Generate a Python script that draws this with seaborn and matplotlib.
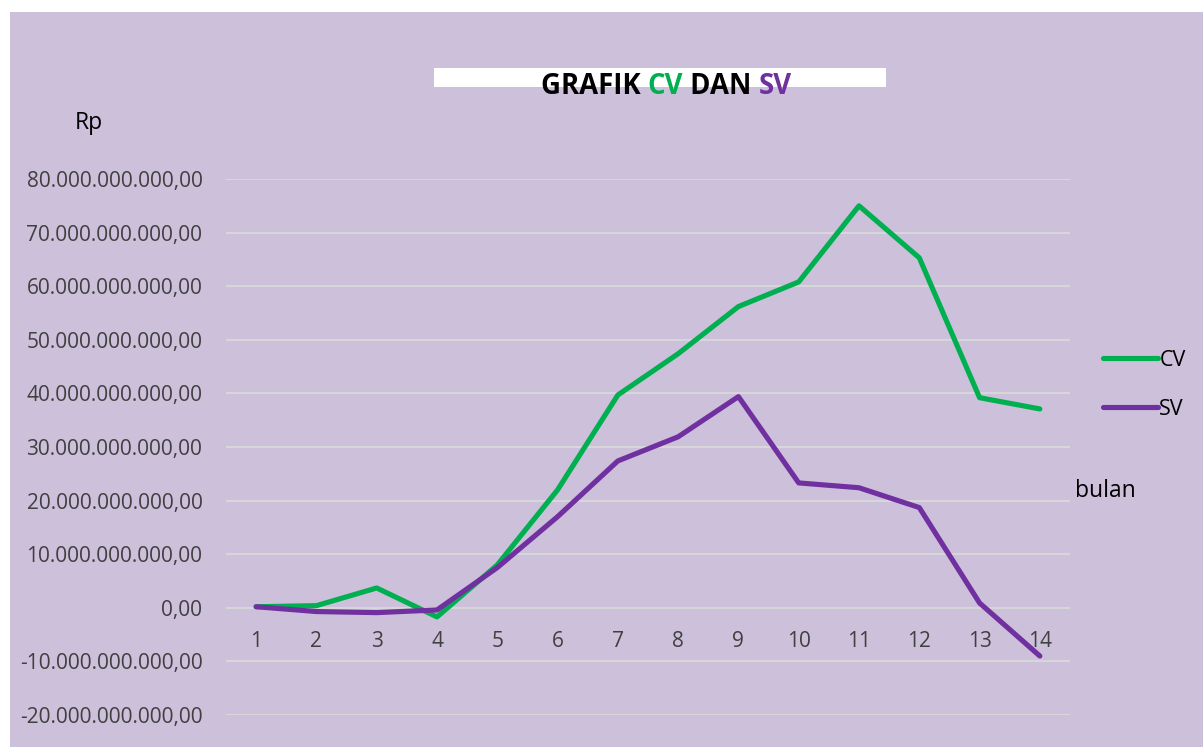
import pandas as pd
import matplotlib.pyplot as plt
import seaborn as sns
from matplotlib.patches import Rectangle

sns.set_theme(style='white')
plt.rcParams['font.family'] = ['Open Sans', 'DejaVu Sans']

bulan = list(range(1, 15))
cv = [0.2, 0.4, 3.7, -1.7, 8.0, 22.0, 39.7, 47.4, 56.2, 60.8, 75.0, 65.3, 39.2, 37.1]
sv = [0.2, -0.7, -0.9, -0.4, 7.5, 17.0, 27.4, 31.9, 39.4, 23.3, 22.4, 18.7, 0.9, -9.0]
yticks = list(range(-20, 90, 10))

df = pd.DataFrame({
    'bulan': bulan * 2,
    'nilai': [v * 1e9 for v in cv + sv],
    'seri': ['CV'] * len(cv) + ['SV'] * len(sv),
})

bg = '#CCC0DA'
green = '#00B050'
purple = '#7030A0'

fig = plt.figure(figsize=(12.03, 7.47), dpi=100, facecolor=bg)
# white strips on top and left, like the screenshot
fig.patches.append(Rectangle((0, (747 - 12) / 747), 1, 12 / 747, transform=fig.transFigure,
                             facecolor='white', edgecolor='none', zorder=-5))
fig.patches.append(Rectangle((0, 0), 10 / 1203, 1, transform=fig.transFigure,
                             facecolor='white', edgecolor='none', zorder=-5))
# white box behind the title
fig.patches.append(Rectangle((434 / 1203, 660 / 747), 452 / 1203, 19 / 747, transform=fig.transFigure,
                             facecolor='white', edgecolor='none', zorder=-4))

ax = fig.add_axes([226 / 1203, 32 / 747, 844 / 1203, 536 / 747])
ax.set_facecolor(bg)

sns.lineplot(data=df, x='bulan', y='nilai', hue='seri', palette={'CV': green, 'SV': purple},
             lw=3.7, ax=ax, legend=False, solid_capstyle='round', solid_joinstyle='round', zorder=3)

fmt = lambda v: f'{v:,.2f}'.replace(',', 'X').replace('.', ',').replace('X', '.')
ax.set_ylim(-20e9, 80e9)
ax.set_yticks([t * 1e9 for t in yticks])
ax.set_yticklabels([fmt(t * 1e9) for t in yticks])
ax.set_xlim(0.5, 14.5)
ax.set_xticks(bulan)
ax.set_xticklabels([str(b) for b in bulan])
ax.grid(axis='y', color='#D9D9D9', lw=1.3)
ax.grid(axis='x', visible=False)
for s in ax.spines.values():
    s.set_visible(False)
ax.spines['bottom'].set_position(('data', 0))
ax.tick_params(axis='y', length=0, pad=17, labelsize=15, labelcolor='#404040')
ax.tick_params(axis='x', length=0, pad=17, labelsize=15, labelcolor='#404040')
ax.set_xlabel('')
ax.set_ylabel('')

# legend
h1, = ax.plot([], [], color=green, lw=3.7, solid_capstyle='round', label='CV')
h2, = ax.plot([], [], color=purple, lw=3.7, solid_capstyle='round', label='SV')
fig.legend(handles=[h1, h2], loc='center left', bbox_to_anchor=(1084 / 1203, (747 - 385) / 747),
           frameon=False, fontsize=15.5, handlelength=2.55, handletextpad=0.05, labelspacing=1.3,
           labelcolor='#000000')

fig.text(75 / 1203, (747 - 123) / 747, 'Rp', fontsize=16.5, color='black', va='center', ha='left')
fig.text(1075 / 1203, (747 - 491) / 747, 'bulan', fontsize=16.5, color='black', va='center', ha='left')

# multi-coloured title, pieces chained one after the other
t = fig.text(541 / 1203, (747 - 101) / 747, 'GRAFIK ', fontsize=19.8, fontweight='bold',
             color='black', va='bottom', ha='left', zorder=5)
for part, col in [('CV', green), (' DAN ', 'black'), ('SV', purple)]:
    t = ax.annotate(part, xy=(1, 0), xycoords=t, xytext=(0, 0), textcoords='offset points',
                    fontsize=19.8, fontweight='bold', color=col, va='bottom', ha='left',
                    annotation_clip=False, zorder=5)

fig.savefig('out.png', dpi=100, facecolor=bg)
